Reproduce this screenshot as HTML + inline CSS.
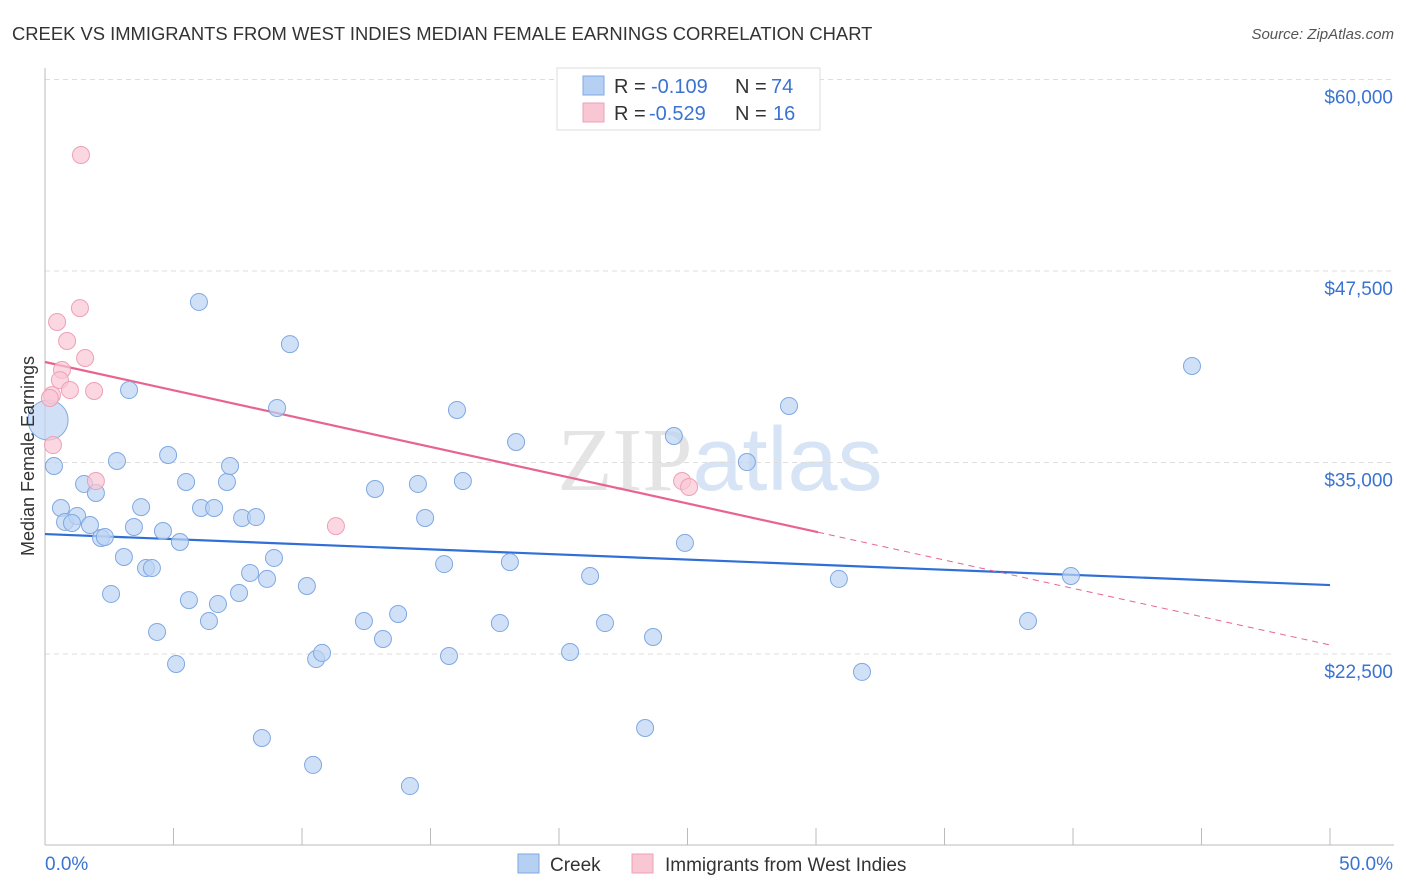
<!DOCTYPE html>
<html><head><meta charset="utf-8"><style>
body{margin:0;background:#fff;font-family:"Liberation Sans",sans-serif;}
svg{display:block}
</style></head><body>
<svg id="chart" width="1406" height="892" xmlns="http://www.w3.org/2000/svg">
<text x="12" y="40" font-size="18.4" fill="#333">CREEK VS IMMIGRANTS FROM WEST INDIES MEDIAN FEMALE EARNINGS CORRELATION CHART</text>
<text x="1394" y="39" font-size="15" fill="#555" font-style="italic" text-anchor="end">Source: ZipAtlas.com</text>
<text x="720" y="490" font-size="90" fill="#e4e4e4" text-anchor="middle" font-family="Liberation Serif,serif">ZIP<tspan fill="#d6e4f5" font-family="Liberation Sans,sans-serif">atlas</tspan></text>
<g id="grid"></g><g id="axes"></g><g id="lines"></g><g id="pts"></g>
<text transform="translate(34,456) rotate(-90)" font-size="18" fill="#333" text-anchor="middle">Median Female Earnings</text>
<g>
<rect x="557" y="68" width="263" height="62" fill="#fff" stroke="#ddd"/>
<rect x="583" y="76" width="21" height="19" fill="#b6d0f3" stroke="#7fa8e2"/>
<rect x="583" y="103" width="21" height="19" fill="#f9c6d4" stroke="#eea0b6"/>
<text x="614" y="93" font-size="20" fill="#333">R =</text>
<text x="651" y="93" font-size="20" fill="#3b73d1">-0.109</text>
<text x="735" y="93" font-size="20" fill="#333">N =</text>
<text x="771" y="93" font-size="20" fill="#3b73d1">74</text>
<text x="614" y="120" font-size="20" fill="#333">R =</text>
<text x="649" y="120" font-size="20" fill="#3b73d1">-0.529</text>
<text x="735" y="120" font-size="20" fill="#333">N =</text>
<text x="773" y="120" font-size="20" fill="#3b73d1">16</text>
</g>
<g>
<rect x="518" y="854" width="21" height="19" fill="#b6d0f3" stroke="#7fa8e2"/>
<text x="550" y="871" font-size="19" fill="#333">Creek</text>
<rect x="632" y="854" width="21" height="19" fill="#f9c6d4" stroke="#eea0b6"/>
<text x="665" y="871" font-size="19" fill="#333">Immigrants from West Indies</text>
</g>
</svg>
<script>
const yTicks=[22500,35000,47500,60000];
const yTickLabels=["$22,500","$35,000","$47,500","$60,000"];
const creekX=[0.12,0.35,0.62,0.78,1.25,1.05,1.52,1.98,1.75,2.18,2.33,2.80,2.57,3.07,3.27,3.46,3.74,3.93,4.16,4.36,4.59,4.79,5.10,5.25,5.49,5.60,5.99,6.07,6.38,6.58,6.73,7.08,7.20,7.55,7.67,7.98,8.21,8.44,8.64,8.91,9.03,9.53,10.19,10.43,10.55,10.78,12.41,12.84,13.15,13.74,14.20,14.51,14.79,15.53,15.72,16.03,16.26,17.70,18.09,18.33,20.43,21.21,21.79,23.66,23.35,24.47,24.90,27.31,28.95,30.89,31.79,38.25,39.92,44.63];
const creekY=[37770,34770,32030,31120,31510,31050,33600,33010,30920,30070,30140,35100,26420,28830,39730,30790,32090,28110,28110,23940,30530,35490,21850,29810,33730,26020,45480,32030,24650,32030,25760,33730,34770,26480,31380,27790,31440,17020,27400,28770,38560,42730,26940,15260,22170,22570,24650,33270,23480,25110,13880,33600,31380,28370,22370,38430,33790,24520,28500,36340,22630,27590,24520,23610,17670,36730,29750,35030,38690,27400,21330,24650,27590,41300];
const wiX=[1.40,1.36,0.47,0.86,1.56,0.66,0.58,0.97,1.91,0.27,0.19,0.31,1.98,11.32,24.79,25.06];
const wiY=[55070,45080,44170,42930,41820,41040,40380,39730,39670,39400,39210,36140,33790,30850,33790,33400];
const creekTrend=[30330,27000];
const wiTrend=[41560,23090];
const wiSolidEnd=30.08;
const NS="http://www.w3.org/2000/svg";
const X=p=>45+p/50*1285;
const Y=v=>654-(v-22500)/12500*191.5;
function mk(tag,attrs,parent){const e=document.createElementNS(NS,tag);for(const k in attrs)e.setAttribute(k,attrs[k]);document.getElementById(parent).appendChild(e);return e;}
yTicks.forEach((t,i)=>{
 const l=mk('line',{x1:45,x2:1394,y1:Y(t),y2:Y(t),stroke:'#ddd','stroke-dasharray':'5,4'},'grid');
 
 
 const tx=mk('text',{x:1393,y:Y(t)+24,'font-size':19,fill:'#3b73d1','text-anchor':'end'},'grid');
 tx.textContent=yTickLabels[i];
 
 
});
let ax=mk('line',{x1:45,x2:1394,y1:845,y2:845,stroke:'#bbb'},'axes');


ax=mk('line',{x1:45,x2:45,y1:68,y2:845,stroke:'#bbb'},'axes');


for(let i=0;i<=10;i++){const t=mk('line',{x1:X(i*5),x2:X(i*5),y1:828,y2:845,stroke:'#bbb'},'axes');
 
 }
let xl=mk('text',{x:45,y:870,'font-size':19,fill:'#3b73d1'},'axes');xl.textContent='0.0%';


xl=mk('text',{x:1393,y:870,'font-size':19,fill:'#3b73d1','text-anchor':'end'},'axes');xl.textContent='50.0%';


creekX.forEach((x,i)=>{const c=mk('circle',{cx:X(x),cy:Y(creekY[i]),r:i===0?20:8.5,fill:'#bcd4f4','fill-opacity':0.7,stroke:'#7fa8e2','stroke-width':1},'pts');
 
 });
wiX.forEach((x,i)=>{const c=mk('circle',{cx:X(x),cy:Y(wiY[i]),r:8.5,fill:'#f9c6d4','fill-opacity':0.7,stroke:'#eea0b6','stroke-width':1},'pts');
 
 });
let t=mk('line',{x1:X(0),y1:Y(creekTrend[0]),x2:X(50),y2:Y(creekTrend[1]),stroke:'#2f6fd6','stroke-width':2.2},'lines');


const wiAt=p=>wiTrend[0]+(wiTrend[1]-wiTrend[0])*p/50;
t=mk('line',{x1:X(0),y1:Y(wiTrend[0]),x2:X(wiSolidEnd),y2:Y(wiAt(wiSolidEnd)),stroke:'#e8648f','stroke-width':2.2},'lines');


t=mk('line',{x1:X(wiSolidEnd),y1:Y(wiAt(wiSolidEnd)),x2:X(50),y2:Y(wiTrend[1]),stroke:'#e8648f','stroke-width':1,'stroke-dasharray':'6,5'},'lines');


</script>
</body></html>
